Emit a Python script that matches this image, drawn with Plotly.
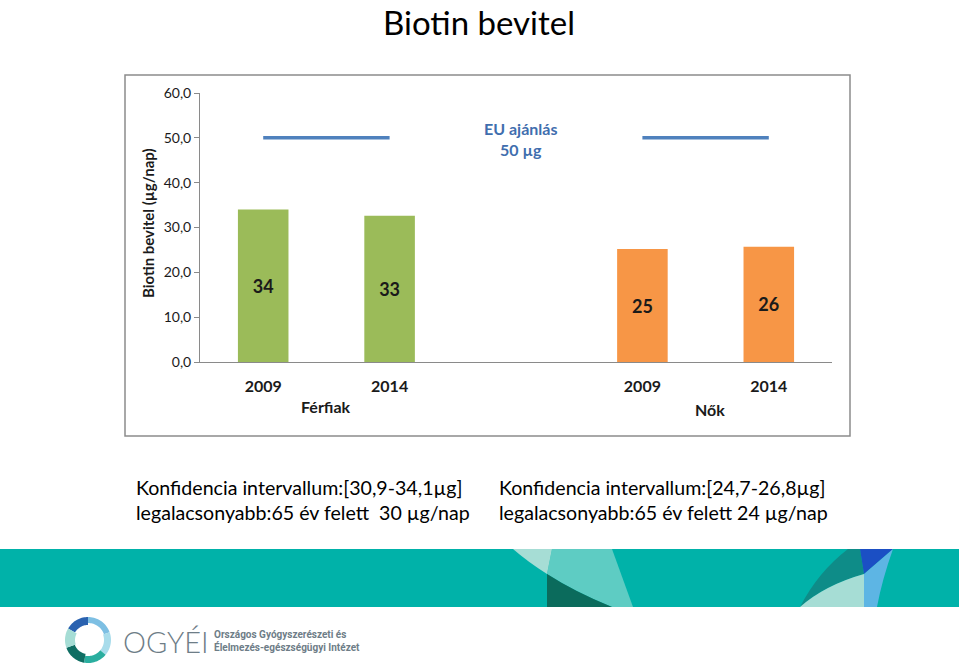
import numpy as np
import plotly.graph_objects as go

# ---------------- data ----------------
groups = ["Férfiak", "Nők"]
years = ["2009", "2014"]
men_values = [34.0, 32.6]
women_values = [25.2, 25.7]
men_labels = ["34", "33"]
women_labels = ["25", "26"]
eu_recommendation = 50.0
y_ticks = [0, 10, 20, 30, 40, 50, 60]
title_text = "Biotin bevitel"
y_title = "Biotin bevitel (µg/nap)"
eu_label = "EU ajánlás<br>50 µg"
men_notes = ["Konfidencia intervallum:[30,9-34,1µg]", "legalacsonyabb:65 év felett  30 µg/nap"]
women_notes = ["Konfidencia intervallum:[24,7-26,8µg]", "legalacsonyabb:65 év felett 24 µg/nap"]

W, H = 959, 668
FONT = "Lato"


def px(x):
    return x / W


def py(y):
    return 1 - y / H


men_x = [0, 1]
women_x = [3, 4]

fig = go.Figure()
fig.add_trace(go.Bar(
    x=men_x, y=men_values, text=men_labels, textposition="inside",
    insidetextanchor="middle", marker=dict(color="#9BBB59", line=dict(width=0)),
    width=0.4, textfont=dict(family=FONT, size=18, color="#1a1a1a", weight="bold"),
    hoverinfo="skip", showlegend=False))
fig.add_trace(go.Bar(
    x=women_x, y=women_values, text=women_labels, textposition="inside",
    insidetextanchor="middle", marker=dict(color="#F79646", line=dict(width=0)),
    width=0.4, textfont=dict(family=FONT, size=18, color="#1a1a1a", weight="bold"),
    hoverinfo="skip", showlegend=False))
for xs in (men_x, women_x):
    fig.add_trace(go.Scatter(
        x=xs, y=[eu_recommendation] * 2, mode="lines",
        line=dict(color="#4F81BD", width=3.5), hoverinfo="skip", showlegend=False))

x_left, x_right = 200, 832
y_top, y_bot = 93, 362

fig.update_layout(
    width=W, height=H, autosize=False,
    margin=dict(l=0, r=0, t=0, b=0, pad=0, autoexpand=False),
    paper_bgcolor="white", plot_bgcolor="rgba(0,0,0,0)",
    separators=",.",
    showlegend=False,
    bargap=0.6,
    xaxis=dict(
        domain=[px(x_left), px(x_right)], range=[-0.5, 4.5],
        tickvals=men_x + women_x, ticktext=years + years,
        tickfont=dict(family=FONT, size=16, color="#1a1a1a", weight="bold"),
        showline=True, linecolor="#8a8a8a", linewidth=1,
        showgrid=False, zeroline=False, ticks="", ticklabelstandoff=10,
        automargin=False, fixedrange=True),
    yaxis=dict(
        domain=[py(y_bot), py(y_top)], range=[0, 60],
        tickvals=y_ticks, tickformat=".1f",
        tickfont=dict(family=FONT, size=14, color="#1a1a1a"),
        showline=True, linecolor="#8a8a8a", linewidth=1,
        ticks="outside", ticklen=5, tickcolor="#8a8a8a",
        showgrid=False, zeroline=False, automargin=False, fixedrange=True),
)

shapes = []
# chart frame
shapes.append(dict(type="rect", xref="paper", yref="paper",
                   x0=px(125), x1=px(850), y0=py(436), y1=py(75),
                   line=dict(color="#8c8c8c", width=1.5), fillcolor="rgba(0,0,0,0)", layer="below"))
# teal band
shapes.append(dict(type="rect", xref="paper", yref="paper",
                   x0=0, x1=1, y0=py(607), y1=py(549),
                   line=dict(width=0), fillcolor="#00B2A9", layer="below"))


def path(points, close=True):
    s = "M " + " L ".join(f"{px(x):.5f},{py(y):.5f}" for x, y in points)
    return s + (" Z" if close else "")


def qpath(cmds):
    out = []
    for c in cmds:
        if c[0] == "M" or c[0] == "L":
            out.append(f"{c[0]} {px(c[1]):.5f},{py(c[2]):.5f}")
        elif c[0] == "Q":
            out.append(f"Q {px(c[1]):.5f},{py(c[2]):.5f} {px(c[3]):.5f},{py(c[4]):.5f}")
        elif c[0] == "Z":
            out.append("Z")
    return " ".join(out)


def add_path(p, color):
    shapes.append(dict(type="path", xref="paper", yref="paper", path=p,
                       line=dict(width=0), fillcolor=color, layer="below"))


# left decoration in band
add_path(qpath([("M", 552, 549), ("L", 612, 549), ("L", 633, 607), ("L", 612, 607),
                ("Q", 575, 592, 547, 574), ("Z",)]), "#5ECCC3")
add_path(qpath([("M", 513, 549), ("L", 552, 549), ("L", 547, 574),
                ("Q", 528, 562, 513, 549), ("Z",)]), "#A6DDD5")
add_path(qpath([("M", 547, 574), ("Q", 575, 592, 612, 607), ("L", 547, 607), ("Z",)]), "#0B6B5C")
# right decoration in band
add_path(qpath([("M", 848, 549), ("L", 860, 549), ("L", 864, 574),
                ("Q", 825, 585, 800, 607), ("Q", 818, 572, 848, 549), ("Z",)]), "#0E8C88")
add_path(qpath([("M", 860, 549), ("L", 893, 549), ("L", 864, 574), ("Z",)]), "#1B4FC4")
add_path(qpath([("M", 893, 549), ("Q", 882, 580, 877, 607), ("L", 864, 607),
                ("L", 864, 574), ("Z",)]), "#5DB5E4")
add_path(qpath([("M", 864, 574), ("L", 864, 607), ("L", 800, 607),
                ("Q", 825, 585, 864, 574), ("Z",)]), "#A6DDD5")

# logo ring
cx, cy = 88, 640
seg = [(-150, -90, "#2A62B0", 8), (-90, -20, "#7DBFE3", 6), (-20, 40, "#A8DCEB", 7),
       (40, 100, "#2AAE9F", 7), (100, 160, "#0F6E63", 9), (160, 210, "#A6DDD5", 10)]
for a0, a1, col, th in seg:
    r_out = 23
    r_in = r_out - th
    ang = np.radians(np.linspace(a0, a1, 20))
    pts = [(cx + r_out * np.cos(a), cy + r_out * np.sin(a)) for a in ang]
    pts += [(cx + r_in * np.cos(a), cy + r_in * np.sin(a)) for a in ang[::-1]]
    add_path(path(pts), col)

fig.update_layout(shapes=shapes)

ann = []
ann.append(dict(text=title_text, x=px(479), y=1.0, xref="paper", yref="paper",
                showarrow=False, font=dict(family=FONT, size=33, color="#000000"),
                xanchor="center", yanchor="top"))
ann.append(dict(text=y_title, x=px(148), y=py(223), xref="paper", yref="paper",
                showarrow=False, textangle=-90,
                font=dict(family=FONT, size=15, color="#1a1a1a", weight="bold"),
                xanchor="center", yanchor="middle"))
ann.append(dict(text=eu_label, x=px(520), y=py(139), xref="paper", yref="paper",
                showarrow=False, font=dict(family=FONT, size=16, color="#3F6EAE", weight="bold"),
                xanchor="center", yanchor="middle"))
ann.append(dict(text=groups[0], x=px(326), y=py(407), xref="paper", yref="paper",
                showarrow=False, font=dict(family=FONT, size=16, color="#1a1a1a", weight="bold"),
                xanchor="center", yanchor="middle"))
ann.append(dict(text=groups[1], x=px(710), y=py(409), xref="paper", yref="paper",
                showarrow=False, font=dict(family=FONT, size=16, color="#1a1a1a", weight="bold"),
                xanchor="center", yanchor="middle"))
for i, (l, r) in enumerate(zip(men_notes, women_notes)):
    yy = 487 + 25 * i
    ann.append(dict(text=l, x=px(134), y=py(yy), xref="paper", yref="paper",
                    showarrow=False, font=dict(family=FONT, size=19.6, color="#000000"),
                    xanchor="left", yanchor="middle"))
    ann.append(dict(text=r, x=px(497), y=py(yy), xref="paper", yref="paper",
                    showarrow=False, font=dict(family=FONT, size=19.6, color="#000000"),
                    xanchor="left", yanchor="middle"))
# logo text
ann.append(dict(text="OGYÉI", x=px(121), y=py(641), xref="paper", yref="paper",
                showarrow=False, font=dict(family=FONT, size=29, color="#6E7D87", weight=300),
                xanchor="left", yanchor="middle"))
ann.append(dict(text="Országos Gyógyszerészeti és", x=px(212), y=py(634), xref="paper", yref="paper",
                showarrow=False, font=dict(family="Liberation Sans Narrow, Roboto", size=10, color="#6E7D87", weight="bold"),
                xanchor="left", yanchor="middle"))
ann.append(dict(text="Élelmezés-egészségügyi Intézet", x=px(212), y=py(647), xref="paper", yref="paper",
                showarrow=False, font=dict(family="Liberation Sans Narrow, Roboto", size=10, color="#6E7D87", weight="bold"),
                xanchor="left", yanchor="middle"))
fig.update_layout(annotations=ann)

post = (
    "document.documentElement.style.margin='0';"
    "document.body.style.margin='0';"
    "document.body.style.overflow='hidden';"
    "document.documentElement.style.overflow='hidden';"
    "var d=document.getElementsByClassName('plotly-graph-div')[0];"
    "d.style.position='fixed';d.style.left='0px';d.style.top='0px';"
)
fig.write_html("out.html", config={"displayModeBar": False, "staticPlot": True}, post_script=post)
